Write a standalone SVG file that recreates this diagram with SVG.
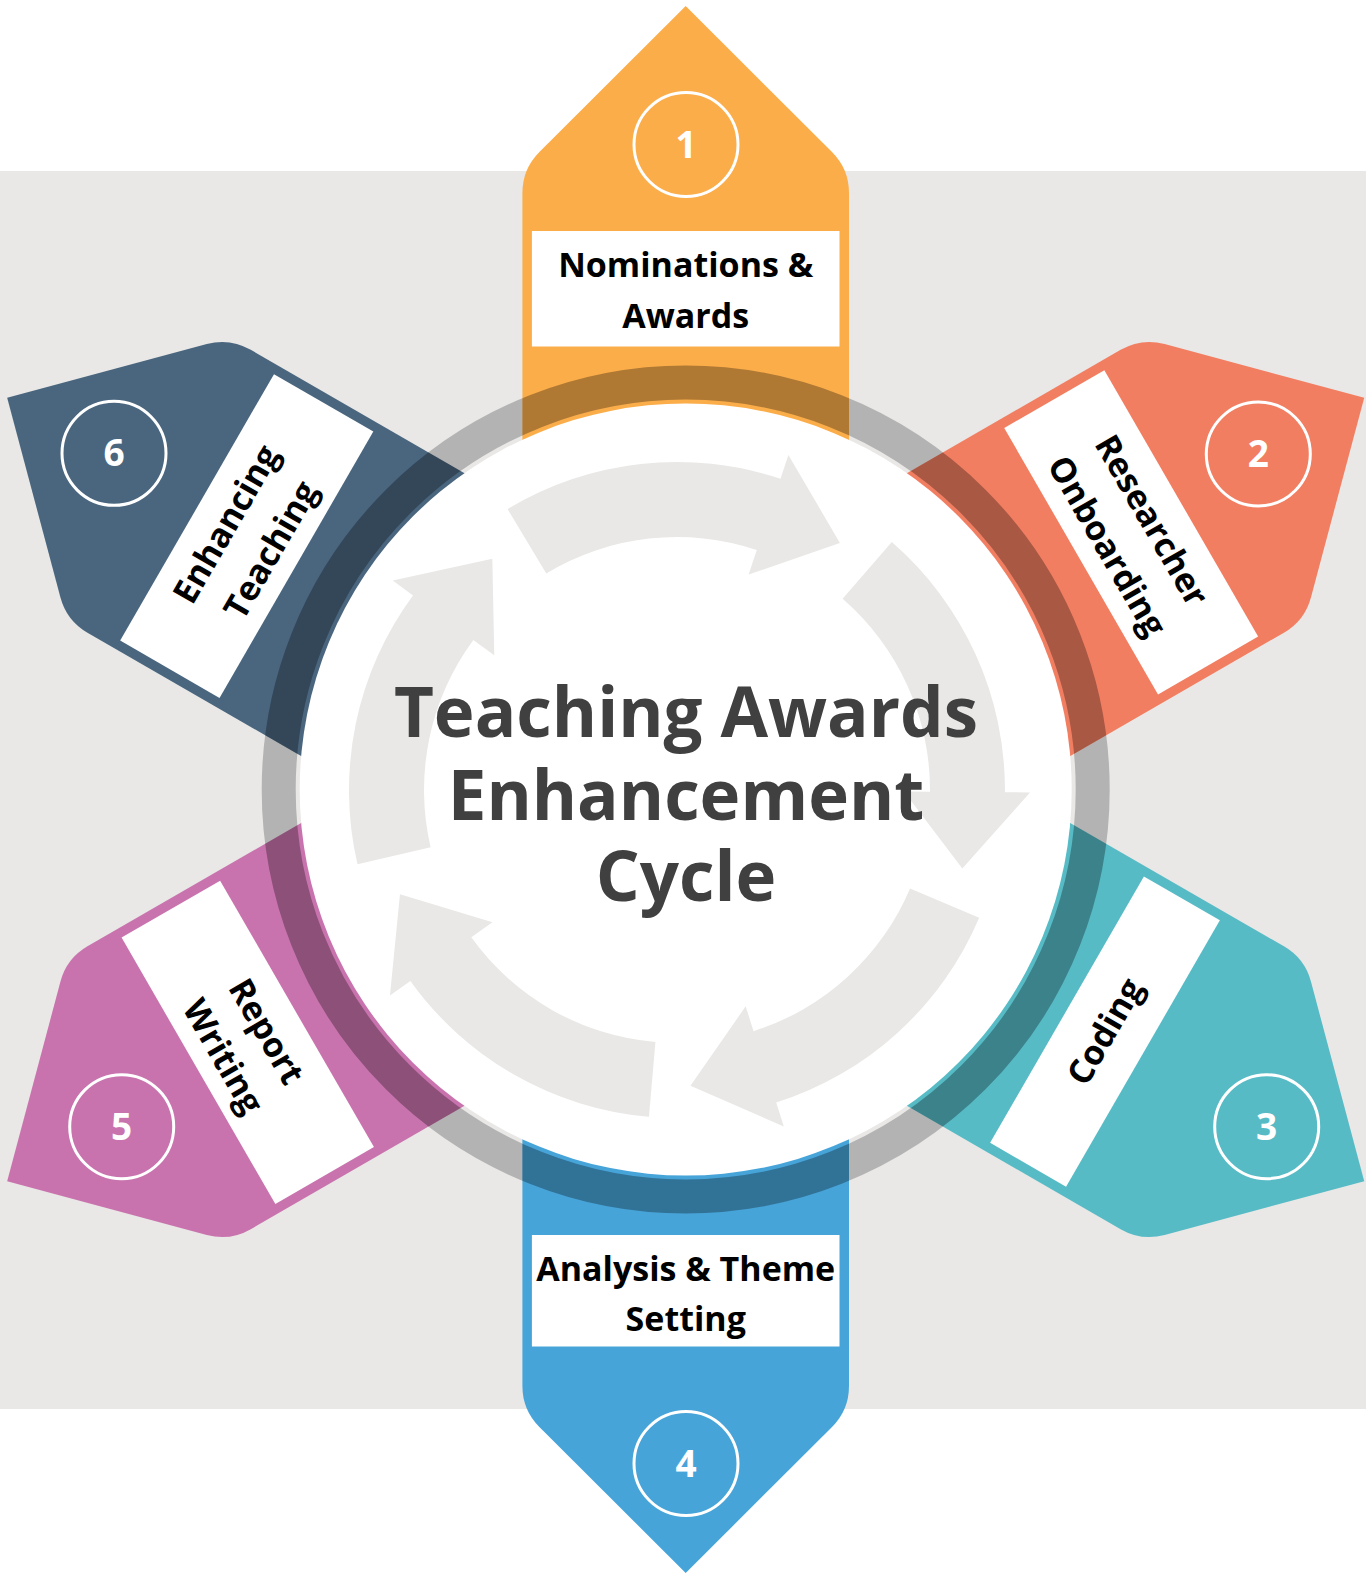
<svg xmlns="http://www.w3.org/2000/svg" xmlns:xlink="http://www.w3.org/1999/xlink" width="1366" height="1574" viewBox="0 0 1366 1574">
  <style>
    .box { fill: #ffffff; }
    .lbl { font-family: "Open Sans", "Noto Sans", sans-serif; font-weight: 700; font-size: 34px; fill: #000000; text-anchor: middle; }
    .num { font-family: "Open Sans", "Noto Sans", sans-serif; font-weight: 700; font-size: 37px; fill: #ffffff; text-anchor: middle; }
    .ring-num { fill: none; stroke: #ffffff; stroke-width: 3; }
    .title { font-family: "Open Sans", "Noto Sans", sans-serif; font-weight: 700; font-size: 69px; fill: #404040; text-anchor: middle; }
    .cyc { fill: #e9e8e6; }
  </style>
  <defs>
    <path id="arrow" d="M-163.3,0 L-163.3,-596.5 A58,58 0 0 1 -146.3,-637.5 L0,-783.5 L146.3,-637.5 A58,58 0 0 1 163.3,-596.5 L163.3,0 Z"/>
    <path id="cycArrow" d="M-169.4,-280.9 A328,328 0 0 1 103.5,-311.2 L111.4,-335.0 L162.9,-247.1 L71.6,-215.4 L79.8,-240.1 A253,253 0 0 0 -130.7,-216.6 Z"/>
    <clipPath id="arrowsClip">
      <use xlink:href="#arrow" href="#arrow" transform="translate(685.7 789.5) rotate(0)"/>
      <use xlink:href="#arrow" href="#arrow" transform="translate(685.7 789.5) rotate(60)"/>
      <use xlink:href="#arrow" href="#arrow" transform="translate(685.7 789.5) rotate(120)"/>
      <use xlink:href="#arrow" href="#arrow" transform="translate(685.7 789.5) rotate(180)"/>
      <use xlink:href="#arrow" href="#arrow" transform="translate(685.7 789.5) rotate(240)"/>
      <use xlink:href="#arrow" href="#arrow" transform="translate(685.7 789.5) rotate(300)"/>
    </clipPath>
  </defs>

  <rect x="0" y="0" width="1366" height="1574" fill="#ffffff"/>
  <rect x="0" y="171" width="1366" height="1238" fill="#e9e8e6"/>
  <circle cx="685.7" cy="789.5" r="407" fill="none" stroke="#b3b3b3" stroke-width="34"/>

  <g id="node1">
    <g transform="translate(685.7 789.5)">
      <use xlink:href="#arrow" href="#arrow" fill="#fbad4a"/>
      <rect class="box" x="-153.8" y="-558.5" width="307.6" height="115.5"/>
      <text class="lbl" x="0" y="-512.8">Nominations &amp;</text>
      <text class="lbl" x="0" y="-461.2">Awards</text>
    </g>
    <circle class="ring-num" cx="686" cy="144.5" r="52"/>
    <text class="num" x="686" y="157.5">1</text>
  </g>

  <g id="node2">
    <g transform="translate(685.7 789.5) rotate(60)">
      <use xlink:href="#arrow" href="#arrow" fill="#f27e62"/>
      <rect class="box" x="-153.8" y="-572.2" width="307.6" height="115.6"/>
      <text class="lbl" x="0" y="-526.4">Researcher</text>
      <text class="lbl" x="0" y="-474.9">Onboarding</text>
    </g>
    <circle class="ring-num" cx="1258.3" cy="454" r="52"/>
    <text class="num" x="1258.3" y="467">2</text>
  </g>

  <g id="node3">
    <g transform="translate(685.7 789.5) rotate(-60)">
      <use xlink:href="#arrow" href="#arrow" transform="rotate(180)" fill="#57bbc6"/>
      <rect class="box" x="-153.8" y="440.3" width="307.6" height="87.7"/>
      <text class="lbl" x="0" y="496">Coding</text>
    </g>
    <circle class="ring-num" cx="1266.7" cy="1126.7" r="52"/>
    <text class="num" x="1266.7" y="1139.7">3</text>
  </g>

  <g id="node4">
    <g transform="translate(685.7 789.5)">
      <use xlink:href="#arrow" href="#arrow" transform="rotate(180)" fill="#47a4d9"/>
      <rect class="box" x="-153.8" y="445.5" width="307.6" height="111.5"/>
      <text class="lbl" x="0" y="491.5">Analysis &amp; Theme</text>
      <text class="lbl" x="0" y="541.2">Setting</text>
    </g>
    <circle class="ring-num" cx="686" cy="1463.5" r="52"/>
    <text class="num" x="686" y="1476.5">4</text>
  </g>

  <g id="node5">
    <g transform="translate(685.7 789.5) rotate(60)">
      <use xlink:href="#arrow" href="#arrow" transform="rotate(180)" fill="#c973ae"/>
      <rect class="box" x="-153.8" y="448.8" width="307.6" height="113.8"/>
      <text class="lbl" x="0" y="495.9">Report</text>
      <text class="lbl" x="0" y="545.7">Writing</text>
    </g>
    <circle class="ring-num" cx="121.7" cy="1126.7" r="52"/>
    <text class="num" x="121.7" y="1139.7">5</text>
  </g>

  <g id="node6">
    <g transform="translate(685.7 789.5) rotate(-60)">
      <use xlink:href="#arrow" href="#arrow" fill="#4a667f"/>
      <rect class="box" x="-153.8" y="-564.2" width="307.6" height="114.7"/>
      <text class="lbl" x="0" y="-518.9">Enhancing</text>
      <text class="lbl" x="0" y="-467.4">Teaching</text>
    </g>
    <circle class="ring-num" cx="114" cy="453.3" r="52"/>
    <text class="num" x="114" y="466.3">6</text>
  </g>

  <g id="hub">
    <circle cx="685.7" cy="789.5" r="386" fill="#ffffff"/>
    <circle cx="685.7" cy="789.5" r="407" fill="none" stroke="#000000" stroke-opacity="0.3" stroke-width="34" clip-path="url(#arrowsClip)"/>
  </g>

  <g id="connectors">
    <use xlink:href="#cycArrow" href="#cycArrow" class="cyc" transform="translate(677 790) rotate(0)"/>
    <use xlink:href="#cycArrow" href="#cycArrow" class="cyc" transform="translate(677 790) rotate(72)"/>
    <use xlink:href="#cycArrow" href="#cycArrow" class="cyc" transform="translate(677 790) rotate(144)"/>
    <use xlink:href="#cycArrow" href="#cycArrow" class="cyc" transform="translate(677 790) rotate(216)"/>
    <use xlink:href="#cycArrow" href="#cycArrow" class="cyc" transform="translate(677 790) rotate(288)"/>
  </g>

  <g id="title">
    <text class="title" x="686" y="736.7">Teaching Awards</text>
    <text class="title" x="686" y="819.6">Enhancement</text>
    <text class="title" x="686" y="901">Cycle</text>
  </g>
</svg>
